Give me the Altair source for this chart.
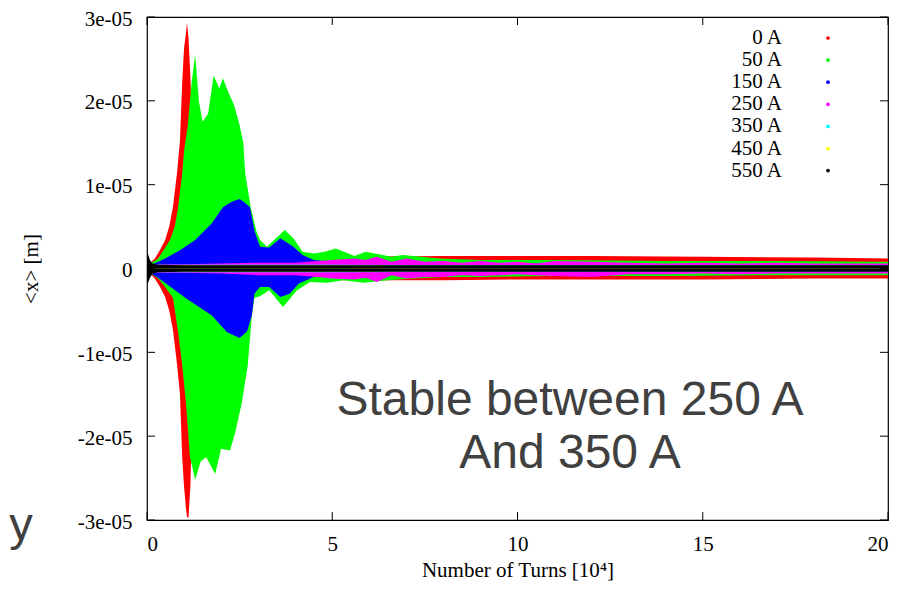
import altair as alt
import pandas as pd

# ---- series (current settings) and their gnuplot colours ----
series_names = ["0 A", "50 A", "150 A", "250 A", "350 A", "450 A", "550 A"]
series_colors = ["#ff0000", "#00ff00", "#0000ff", "#ff00ff", "#00ffff", "#ffff00", "#000000"]

# envelopes of the scattered <x> points
# x in units of 1e4 turns, amplitude in units of 1e-5 m
a0_x_hi = [0, 0.1, 0.22, 0.35, 0.49, 0.6, 0.7, 0.81, 0.89, 0.95, 1.0, 1.05, 1.08, 1.12, 1.17, 1.22, 1.3, 1.5, 1.8, 2.1, 2.3, 2.5, 2.7, 3.0, 5, 8, 10, 12, 15, 18, 20]
a0_hi = [0.05, 0.07, 0.125, 0.22, 0.34, 0.5, 0.73, 1.14, 1.53, 2.22, 2.63, 2.8, 2.93, 2.75, 2.3, 1.6, 1.35, 1.3, 1.25, 1.1, 0.8, 0.45, 0.2, 0.14, 0.14, 0.15, 0.15, 0.15, 0.14, 0.13, 0.12]
a0_x_lo = [0, 0.1, 0.22, 0.35, 0.49, 0.6, 0.7, 0.81, 0.89, 0.95, 1.0, 1.05, 1.08, 1.12, 1.17, 1.22, 1.3, 1.5, 1.8, 2.1, 2.3, 2.5, 2.7, 3.0, 5, 8, 10, 12, 15, 18, 20]
a0_lo = [-0.05, -0.07, -0.125, -0.22, -0.34, -0.5, -0.73, -1.14, -1.5, -2.25, -2.6, -2.85, -2.97, -2.97, -2.6, -1.8, -1.4, -1.3, -1.25, -1.1, -0.8, -0.45, -0.2, -0.14, -0.14, -0.14, -0.13, -0.13, -0.13, -0.12, -0.12]

a50_x_hi = [0, 0.1, 0.3, 0.45, 0.62, 0.75, 0.84, 0.95, 1.0, 1.1, 1.2, 1.3, 1.4, 1.5, 1.65, 1.8, 1.95, 2.05, 2.2, 2.35, 2.5, 2.6, 2.65, 2.8, 2.95, 3.05, 3.24, 3.45, 3.72, 3.95, 4.2, 4.5, 4.8, 5.1, 5.6, 5.9, 6.6, 6.9, 7.9, 9, 11, 14, 17, 20]
a50_hi = [0.04, 0.06, 0.12, 0.22, 0.34, 0.5, 0.73, 1.14, 1.4, 1.71, 2.2, 2.55, 2.0, 1.75, 1.85, 2.3, 2.15, 2.27, 2.1, 1.95, 1.71, 1.5, 1.14, 0.73, 0.45, 0.34, 0.26, 0.35, 0.46, 0.36, 0.2, 0.18, 0.2, 0.24, 0.15, 0.2, 0.14, 0.16, 0.12, 0.1, 0.1, 0.09, 0.09, 0.08]
a50_x_lo = [0, 0.1, 0.3, 0.45, 0.7, 0.84, 0.95, 1.05, 1.16, 1.3, 1.45, 1.6, 1.84, 2.0, 2.24, 2.38, 2.56, 2.72, 2.83, 2.9, 3.05, 3.3, 3.67, 4.05, 4.4, 4.86, 5.3, 5.85, 6.5, 7.2, 8, 9, 11, 14, 17, 20]
a50_lo = [-0.04, -0.06, -0.12, -0.2, -0.35, -0.76, -1.15, -1.6, -2.25, -2.52, -2.3, -2.25, -2.45, -2.15, -2.17, -1.96, -1.6, -1.15, -0.56, -0.35, -0.33, -0.26, -0.46, -0.26, -0.16, -0.17, -0.14, -0.17, -0.14, -0.12, -0.1, -0.1, -0.09, -0.09, -0.08, -0.08]

a150_x_hi = [0, 0.2, 0.49, 0.9, 1.3, 1.75, 2.05, 2.3, 2.5, 2.6, 2.78, 2.9, 3.05, 3.3, 3.6, 3.95, 4.2, 4.5, 5, 6, 8, 10, 14, 20]
a150_hi = [0.03, 0.06, 0.12, 0.22, 0.34, 0.54, 0.73, 0.8, 0.83, 0.8, 0.73, 0.45, 0.26, 0.25, 0.36, 0.26, 0.16, 0.1, 0.08, 0.07, 0.06, 0.06, 0.05, 0.05]
a150_x_lo = [0, 0.3, 1.03, 1.75, 2.16, 2.5, 2.7, 2.83, 2.9, 3.05, 3.3, 3.6, 3.85, 4.1, 4.5, 5, 6, 8, 10, 14, 20]
a150_lo = [-0.03, -0.11, -0.35, -0.56, -0.76, -0.83, -0.75, -0.56, -0.3, -0.22, -0.22, -0.34, -0.3, -0.18, -0.1, -0.08, -0.07, -0.06, -0.06, -0.05, -0.05]

a250_x = [0, 0.2, 1, 2, 3, 4, 4.6, 5.0, 5.6, 5.9, 6.2, 6.6, 7.0, 7.5, 8, 8.5, 9, 9.5, 10, 10.5, 11, 12, 13, 14, 15, 16, 17, 18, 19, 20]
a250_hi = [0.06, 0.05, 0.05, 0.06, 0.07, 0.07, 0.09, 0.1, 0.12, 0.1, 0.14, 0.08, 0.12, 0.08, 0.09, 0.07, 0.09, 0.07, 0.08, 0.06, 0.09, 0.08, 0.07, 0.06, 0.07, 0.06, 0.07, 0.06, 0.06, 0.06]
a250_lo = [-0.06, -0.05, -0.05, -0.06, -0.08, -0.08, -0.1, -0.12, -0.13, -0.11, -0.16, -0.08, -0.12, -0.1, -0.1, -0.08, -0.09, -0.08, -0.07, -0.08, -0.09, -0.1, -0.07, -0.07, -0.06, -0.07, -0.06, -0.06, -0.06, -0.06]

a350_x = [0, 0.2, 5, 10, 15, 20]
a350_hi = [0.08, 0.045, 0.045, 0.04, 0.04, 0.035]
a350_lo = [-0.08, -0.045, -0.045, -0.04, -0.04, -0.035]

a450_x = [0, 0.2, 5, 10, 15, 20]
a450_hi = [0.06, 0.035, 0.035, 0.03, 0.03, 0.03]
a450_lo = [-0.06, -0.035, -0.035, -0.03, -0.03, -0.03]

a550_x = [0, 0.03, 0.08, 0.15, 0.3, 1, 5, 10, 15, 20]
a550_hi = [0.18, 0.17, 0.1, 0.06, 0.045, 0.04, 0.04, 0.04, 0.04, 0.04]
a550_lo = [-0.18, -0.17, -0.11, -0.06, -0.045, -0.04, -0.04, -0.04, -0.04, -0.04]

x_ticks = [0, 5, 10, 15, 20]
y_ticks = [-3, -2, -1, 0, 1, 2, 3]

envelopes = {
    "0 A": (a0_x_hi, a0_hi, a0_x_lo, a0_lo),
    "50 A": (a50_x_hi, a50_hi, a50_x_lo, a50_lo),
    "150 A": (a150_x_hi, a150_hi, a150_x_lo, a150_lo),
    "250 A": (a250_x, a250_hi, a250_x, a250_lo),
    "350 A": (a350_x, a350_hi, a350_x, a350_lo),
    "450 A": (a450_x, a450_hi, a450_x, a450_lo),
    "550 A": (a550_x, a550_hi, a550_x, a550_lo),
}

W, H = 741, 503
SERIF = "Liberation Serif"
FS = 21

color_scale = alt.Scale(domain=series_names, range=series_colors)
xs = alt.Scale(domain=[0, 20], nice=False)
ys = alt.Scale(domain=[-3, 3], nice=False)

layers = []
for i, name in enumerate(series_names):
    xh, yh, xl, yl = envelopes[name]
    rows = [{"series": name, "side": "hi", "turns": a, "amp": b} for a, b in zip(xh, yh)]
    rows += [{"series": name, "side": "lo", "turns": a, "amp": b} for a, b in zip(xl, yl)]
    df = pd.DataFrame(rows)
    x_enc = alt.X("turns:Q", scale=xs,
                  axis=alt.Axis(values=x_ticks, title="Number of Turns [10⁴]")) if i == 0 else alt.X("turns:Q", scale=xs)
    y_enc = alt.Y("amp:Q", scale=ys, stack=None,
                  axis=alt.Axis(values=y_ticks, title="<x> [m]",
                                labelExpr="datum.value == 0 ? '0' : datum.value + 'e-05'")) if i == 0 else alt.Y("amp:Q", scale=ys, stack=None)
    layers.append(
        alt.Chart(df).mark_area(interpolate="linear").encode(
            x=x_enc,
            y=y_enc,
            y2=alt.datum(0),
            detail="side:N",
            color=alt.Color("series:N", scale=color_scale, legend=None),
        )
    )

# key in the upper right corner (gnuplot style: label, then a dot)
key = []
for i, (name, col) in enumerate(zip(series_names, series_colors)):
    row_y = 21 + 22.1 * i
    key.append(alt.Chart(pd.DataFrame({"k": [0]})).mark_text(
        font=SERIF, fontSize=FS, color="#000", align="right", baseline="middle"
    ).encode(x=alt.value(635), y=alt.value(row_y), text=alt.value(name)))
    key.append(alt.Chart(pd.DataFrame({"k": [0]})).mark_point(
        filled=True, shape="circle", size=14, opacity=1, color=col
    ).encode(x=alt.value(681), y=alt.value(row_y)))

# inward tick marks on all four sides (gnuplot style)
xt = pd.DataFrame({"t": x_ticks})
yt = pd.DataFrame({"t": y_ticks})
tick_color = "#000"
ticks = [
    alt.Chart(yt).mark_rule(color=tick_color, strokeWidth=1).encode(y=alt.Y("t:Q", scale=ys), x=alt.value(0), x2=alt.value(8)),
    alt.Chart(yt).mark_rule(color=tick_color, strokeWidth=1).encode(y=alt.Y("t:Q", scale=ys), x=alt.value(W - 8), x2=alt.value(W)),
    alt.Chart(xt).mark_rule(color=tick_color, strokeWidth=1).encode(x=alt.X("t:Q", scale=xs), y=alt.value(H - 8), y2=alt.value(H)),
    alt.Chart(xt).mark_rule(color=tick_color, strokeWidth=1).encode(x=alt.X("t:Q", scale=xs), y=alt.value(0), y2=alt.value(8)),
]

note = alt.Chart(pd.DataFrame({"k": [0]})).mark_text(
    font="Liberation Sans", fontSize=48, color="#404040", align="center",
    baseline="alphabetic", lineBreak="\n", lineHeight=53,
).encode(x=alt.value(423), y=alt.value(398), text=alt.value("Stable between 250 A\nAnd 350 A"))

stray = alt.Chart(pd.DataFrame({"k": [0]})).mark_text(
    font="Liberation Sans", fontSize=47, color="#404040", align="center", baseline="alphabetic",
).encode(x=alt.value(-126), y=alt.value(523), text=alt.value("y"))

chart = alt.layer(*layers, *ticks, *key, note, stray).properties(
    width=W, height=H,
    autosize=alt.AutoSizeParams(type="none"),
    padding={"left": 139, "top": 9, "right": 24, "bottom": 61},
).configure_view(
    stroke="#000", strokeWidth=1.2
).configure_axis(
    grid=False, ticks=False, domain=False,
    labelFont=SERIF, labelFontSize=FS, labelColor="#000",
    titleFont=SERIF, titleFontSize=FS, titleFontWeight="normal", titleColor="#000",
).configure_axisX(
    labelPadding=13, titleY=56, titleBaseline="alphabetic",
).configure_axisY(
    labelPadding=15, labelOffset=2, titleX=-116, titleY=H / 2, titleAngle=-90,
    titleBaseline="middle", titleAlign="center",
)

chart.save("out.html", embed_options={"renderer": "svg", "actions": False})
